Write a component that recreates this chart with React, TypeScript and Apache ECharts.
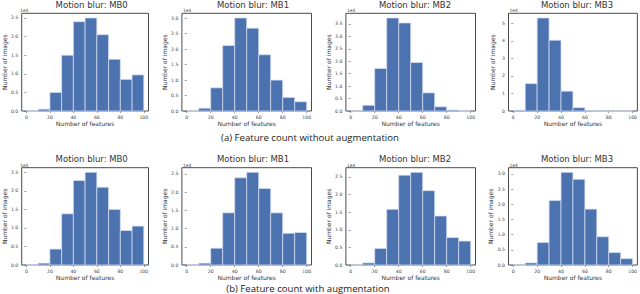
import React, { useEffect, useRef } from "react";
import * as echarts from "echarts";

// Histogram bin edges (number of features)
const binEdges = [0, 10, 20, 30, 40, 50, 60, 70, 80, 90, 100];

// Counts per bin, in units of 1e4 images
// (a) without augmentation
const noAugMB0 = [0.0, 0.05, 0.5, 1.5, 2.4, 2.5, 2.05, 1.39, 0.85, 0.97];
const noAugMB1 = [0.0, 0.09, 0.75, 2.12, 3.01, 2.68, 1.82, 1.0, 0.44, 0.3];
const noAugMB2 = [0.0, 0.23, 1.71, 3.74, 3.54, 1.95, 0.73, 0.17, 0.04, 0.0];
const noAugMB3 = [0.04, 1.56, 5.3, 4.03, 1.13, 0.19, 0.01, 0.0, 0.0, 0.0];
// (b) with augmentation
const augMB0 = [0.0, 0.05, 0.43, 1.38, 2.28, 2.5, 2.1, 1.5, 0.93, 1.05];
const augMB1 = [0.0, 0.05, 0.46, 1.43, 2.39, 2.54, 2.1, 1.43, 0.87, 0.89];
const augMB2 = [0.0, 0.06, 0.47, 1.58, 2.55, 2.63, 2.11, 1.39, 0.78, 0.68];
const augMB3 = [0.0, 0.07, 0.74, 2.12, 3.05, 2.82, 1.84, 0.93, 0.41, 0.21];

const panelTitles = ["Motion blur: MB0", "Motion blur: MB1", "Motion blur: MB2", "Motion blur: MB3"];
const xTicks = [0, 20, 40, 60, 80, 100];
const yTicksHalf = [0, 0.5, 1.0, 1.5, 2.0, 2.5, 3.0, 3.5];
const yTicksUnit = [0, 1, 2, 3, 4, 5];
const captionA = "(a) Feature count without augmentation";
const captionB = "(b) Feature count with augmentation";
const xName = "Number of features";
const yName = "Number of images";
const expLabel = "1e4";

const panels = [
  { data: noAugMB0, ticks: yTicksHalf, dec: 1 },
  { data: noAugMB1, ticks: yTicksHalf, dec: 1 },
  { data: noAugMB2, ticks: yTicksHalf, dec: 1 },
  { data: noAugMB3, ticks: yTicksUnit, dec: 0 },
  { data: augMB0, ticks: yTicksHalf, dec: 1 },
  { data: augMB1, ticks: yTicksHalf, dec: 1 },
  { data: augMB2, ticks: yTicksHalf, dec: 1 },
  { data: augMB3, ticks: yTicksHalf, dec: 1 },
];

// layout
const colLeft = [18.9, 181.9, 345.9, 508.5];
const rowTop = [13.3, 167.7];
const rowHeight = [97.7, 97.3];
const gridW = 129.6;
const titleX = [91.7, 253, 415, 577];
const titleY = [5, 159];
const captionY = [137.5, 288];

const BLUE = "#4c72b0";
const FONT = "DejaVu Sans";

export default function App() {
  const ref = useRef<HTMLDivElement>(null);
  useEffect(() => {
    if (!ref.current) return;
    const chart = echarts.init(ref.current, null, { renderer: "svg" });
    const grid: any[] = [];
    const xAxis: any[] = [];
    const yAxis: any[] = [];
    const series: any[] = [];
    const graphic: any[] = [];
    panels.forEach((p, i) => {
      const row = Math.floor(i / 4);
      const col = i % 4;
      const ymax = Math.max(...p.data) * 1.05;
      grid.push({
        left: colLeft[col],
        top: rowTop[row],
        width: gridW,
        height: rowHeight[row],
        show: true,
        borderColor: "#4a4a4a",
        borderWidth: 1,
        backgroundColor: "transparent",
      });
      xAxis.push({
        type: "value",
        gridIndex: i,
        min: -4,
        max: 104,
        axisLine: { show: false },
        splitLine: { show: false },
        axisTick: { show: true, length: 2, lineStyle: { color: "#555", width: 0.6 }, customValues: xTicks },
        axisLabel: {
          customValues: xTicks,
          fontSize: 4.6,
          color: "#444",
          margin: 3.5,
          fontFamily: FONT,
        },
        name: xName,
        nameLocation: "middle",
        nameGap: row === 0 ? 8.8 : 8.5,
        nameTextStyle: { fontSize: 6, color: "#333", fontFamily: FONT },
      });
      const ticks = p.ticks.filter((t) => t <= ymax);
      yAxis.push({
        type: "value",
        gridIndex: i,
        min: 0,
        max: ymax,
        axisLine: { show: false },
        splitLine: { show: false },
        axisTick: { show: true, length: 2, lineStyle: { color: "#555", width: 0.6 }, customValues: ticks },
        axisLabel: {
          customValues: ticks,
          fontSize: 4.6,
          color: "#444",
          margin: 3.5,
          fontFamily: FONT,
          formatter: (v: number) => v.toFixed(p.dec),
        },
        name: yName,
        nameLocation: "middle",
        nameGap: 13,
        nameTextStyle: { fontSize: 6, color: "#333", fontFamily: FONT },
      });
      series.push({
        type: "custom",
        xAxisIndex: i,
        yAxisIndex: i,
        data: p.data.map((v, k) => [binEdges[k], binEdges[k + 1], v]),
        renderItem: (params: any, api: any) => {
          const x0 = api.value(0);
          const x1 = api.value(1);
          const y = api.value(2);
          const p0 = api.coord([x0, y]);
          const p1 = api.coord([x1, 0]);
          return {
            type: "rect",
            shape: { x: p0[0], y: p0[1], width: p1[0] - p0[0], height: p1[1] - p0[1] },
            style: { fill: BLUE, stroke: "rgba(215,225,245,0.9)", lineWidth: 0.8 },
          };
        },
      });
      graphic.push({
        type: "text",
        x: titleX[col],
        y: titleY[row],
        style: {
          text: panelTitles[col],
          fontSize: 8.5,
          fontFamily: FONT,
          fill: "#333",
          align: "center",
          verticalAlign: "middle",
        },
      });
      graphic.push({
        type: "text",
        x: colLeft[col] + 1,
        y: rowTop[row] - 2.5,
        style: {
          text: expLabel,
          fontSize: 4.4,
          fontFamily: FONT,
          fill: "#444",
          align: "left",
          verticalAlign: "middle",
        },
      });
    });
    graphic.push({
      type: "text",
      x: 310,
      y: captionY[0],
      style: { text: captionA, fontSize: 9.6, fontFamily: "Open Sans", fill: "#222", align: "center", verticalAlign: "middle" },
    });
    graphic.push({
      type: "text",
      x: 308,
      y: captionY[1],
      style: { text: captionB, fontSize: 9.6, fontFamily: "Open Sans", fill: "#222", align: "center", verticalAlign: "middle" },
    });
    chart.setOption({
      animation: false,
      backgroundColor: "#fff",
      grid,
      xAxis,
      yAxis,
      series,
      graphic,
    });
    return () => chart.dispose();
  }, []);
  return <div ref={ref} style={{ width: 640, height: 294, position: "absolute", left: 0, top: 0 }} />;
}
